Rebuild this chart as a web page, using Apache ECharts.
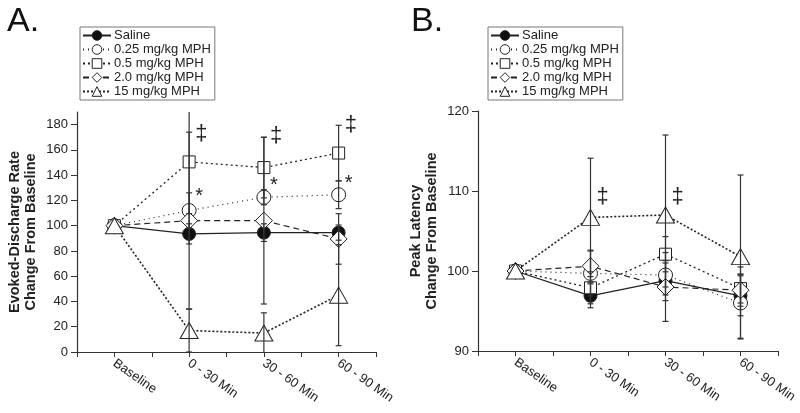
<!DOCTYPE html>
<html>
<head>
<meta charset="utf-8">
<script src="https://cdn.jsdelivr.net/npm/echarts@6/dist/echarts.min.js"></script>
<style>
  html, body { margin: 0; padding: 0; background: #fff; }
  #main { width: 800px; height: 413px; }
</style>
</head>
<body>
<div id="main"></div>
<script>
// categories and groups
var categories = ['Baseline', '0 - 30 Min', '30 - 60 Min', '60 - 90 Min'];
var groups = ['Saline', '0.25 mg/kg MPH', '0.5 mg/kg MPH', '2.0 mg/kg MPH', '15 mg/kg MPH'];

// A. evoked-discharge rate (% of baseline)
var salineA = [100, 93.5, 94.5, 94.5];
var mph025A = [100, 112, 122.5, 124.5];
var mph05A = [100, 150.5, 146, 157.5];
var mph2A = [100, 104, 104, 89.5];
var mph15A = [100, 17, 15, 45];
var salineAErr = [0, 8, 7, 6];
var mph025AErr = [0, 14, 6, 11];
var mph05AErr = [0, 41, 24, 22];
var mph2AErr = [0, 70, 66, 20];
var mph15AErr = [0, 17, 16, 40];

// B. peak latency (% of baseline)
var salineB = [100, 96.9, 98.8, 96.9];
var mph025B = [100, 99.7, 99.5, 96];
var mph05B = [100, 97.9, 102.1, 97.8];
var mph2B = [100, 100.6, 98, 97.6];
var mph15B = [100, 106.7, 107, 101.8];
var salineBErr = [0, 1.5, 2.5, 2.5];
var mph025BErr = [0, 2.8, 1.5, 4.5];
var mph05BErr = [0, 2, 2.2, 1.8];
var mph2BErr = [0, 2, 4.3, 2];
var mph15BErr = [0, 7.4, 10, 10.2];

// significance marks [category index, value]
var daggerA = [[1, 172.8], [2, 171.4], [3, 179.4]];
var starA = [[1, 123], [2, 131.5], [3, 133.5]];
var daggerB = [[1, 109.3], [2, 109.3]];

// y tick labels
var yTicksA = [0, 20, 40, 60, 80, 100, 120, 140, 160, 180];
var yTicksB = [90, 100, 110, 120];
var yMaxA = 190;

var FONT = 'Liberation Sans, Arial, sans-serif';
var INK = '#222';

// look of each group
var looks = [
	{ symbol: 'circle', size: 13, fill: '#111', line: 'solid', width: 1.3 },
	{ symbol: 'circle', size: 14, fill: '#fff', line: [1, 4], width: 1.2 },
	{ symbol: 'rect', size: 12, fill: '#fff', line: [2, 3], width: 1.3 },
	{ symbol: 'diamond', size: 17, fill: '#fff', line: [6, 4], width: 1.2 },
	{ symbol: 'triangle', size: [18, 16], fill: '#fff', line: [2, 2], width: 1.6 }
];

function lineSeries(idx, means, name, look) {
	return {
		name: name,
		type: 'line',
		xAxisIndex: idx,
		yAxisIndex: idx,
		data: means.map(function(v, i) { return [i, v]; }),
		symbol: look.symbol,
		symbolSize: look.size,
		showSymbol: true,
		z: 3,
		lineStyle: { color: INK, width: look.width, type: look.line },
		itemStyle: { color: look.fill, borderColor: INK, borderWidth: 1 },
		emphasis: { disabled: true },
		animation: false
	};
}

function errorSeries(idx, meansList, errList) {
	var rows = [];
	meansList.forEach(function(means, g) {
		means.forEach(function(v, i) {
			var e = errList[g][i];
			if (e > 0) rows.push([i, v - e, v + e]);
		});
	});
	return {
		type: 'custom',
		xAxisIndex: idx,
		yAxisIndex: idx,
		data: rows,
		clip: true,
		z: 4,
		silent: true,
		animation: false,
		renderItem: function(params, api) {
			var top = api.coord([api.value(0), api.value(2)]);
			var bot = api.coord([api.value(0), api.value(1)]);
			var w = 3;
			var st = { stroke: '#333', lineWidth: 1.2 };
			return {
				type: 'group',
				children: [
					{ type: 'line', shape: { x1: top[0], y1: top[1], x2: bot[0], y2: bot[1] }, style: st },
					{ type: 'line', shape: { x1: top[0] - w, y1: top[1], x2: top[0] + w, y2: top[1] }, style: st },
					{ type: 'line', shape: { x1: bot[0] - w, y1: bot[1], x2: bot[0] + w, y2: bot[1] }, style: st }
				]
			};
		}
	};
}

function markSeries(idx, points, glyph, size) {
	return {
		type: 'custom',
		xAxisIndex: idx,
		yAxisIndex: idx,
		data: points,
		z: 5,
		silent: true,
		animation: false,
		renderItem: function(params, api) {
			var p = api.coord([api.value(0), api.value(1)]);
			return {
				type: 'text',
				style: {
					text: glyph,
					x: p[0] + 6,
					y: p[1],
					fill: INK,
					font: size + 'px ' + FONT,
					textAlign: 'left',
					textVerticalAlign: 'middle'
				}
			};
		}
	};
}

function xAxis(idx) {
	return {
		type: 'value',
		gridIndex: idx,
		min: -0.5,
		max: 3.5,
		interval: 0.5,
		splitLine: { show: false },
		axisLine: { onZero: false, lineStyle: { color: '#333', width: 1.2 } },
		axisTick: { length: 5, lineStyle: { color: '#333' } },
		axisLabel: {
			rotate: -35,
			margin: 10,
			color: INK,
			fontFamily: FONT,
			fontSize: 13,
			showMinLabel: true,
			showMaxLabel: true,
			formatter: function(v) {
				return Number.isInteger(v) ? categories[v] : '';
			}
		}
	};
}

function yAxis(idx, ticks, max, title) {
	return {
		type: 'value',
		gridIndex: idx,
		min: ticks[0],
		max: max,
		interval: ticks[1] - ticks[0],
		name: title,
		nameLocation: 'middle',
		nameGap: 38,
		nameTextStyle: { color: INK, fontFamily: FONT, fontSize: 14.5, fontWeight: 'bold', lineHeight: 16 },
		splitLine: { show: false },
		axisLine: { show: true, onZero: false, lineStyle: { color: '#333', width: 1.2 } },
		axisTick: { length: 6, customValues: ticks, lineStyle: { color: '#333' } },
		axisLabel: {
			margin: 9,
			color: INK,
			fontFamily: FONT,
			fontSize: 13,
			customValues: ticks
		}
	};
}

function legend(left) {
	return {
		data: groups,
		orient: 'vertical',
		left: left,
		top: 27,
		itemWidth: 28,
		itemHeight: 12,
		itemGap: 1,
		padding: [2, 4, 2, 2],
		borderColor: '#777',
		borderWidth: 1,
		selectedMode: false,
		itemStyle: { borderWidth: 1 },
		textStyle: { color: INK, fontFamily: FONT, fontSize: 13, lineHeight: 13, padding: [0, 0, 0, -2] }
	};
}

var meansA = [salineA, mph025A, mph05A, mph2A, mph15A];
var errA = [salineAErr, mph025AErr, mph05AErr, mph2AErr, mph15AErr];
var meansB = [salineB, mph025B, mph05B, mph2B, mph15B];
var errB = [salineBErr, mph025BErr, mph05BErr, mph2BErr, mph15BErr];

var series = [];
groups.forEach(function(name, g) {
	series.push(lineSeries(0, meansA[g], name, looks[g]));
});
groups.forEach(function(name, g) {
	series.push(lineSeries(1, meansB[g], name, looks[g]));
});
series.push(errorSeries(0, meansA, errA));
series.push(errorSeries(1, meansB, errB));
series.push(markSeries(0, daggerA, '\u2021', 22));
series.push(markSeries(0, starA, '*', 20));
series.push(markSeries(1, daggerB, '\u2021', 22));

var option = {
	backgroundColor: '#fff',
	animation: false,
	title: [
		{ text: 'A.', left: 2, top: 0, textStyle: { fontFamily: FONT, fontSize: 34, fontWeight: 'normal', color: '#111' } },
		{ text: 'B.', left: 406, top: 0, textStyle: { fontFamily: FONT, fontSize: 34, fontWeight: 'normal', color: '#111' } }
	],
	legend: [legend(80), legend(488)],
	grid: [
		{ left: 77, right: 424, top: 112, bottom: 61 },
		{ left: 478, right: 22, top: 111, bottom: 62 }
	],
	xAxis: [xAxis(0), xAxis(1)],
	yAxis: [
		yAxis(0, yTicksA, yMaxA, 'Evoked-Discharge Rate\nChange From Baseline'),
		yAxis(1, yTicksB, yTicksB[yTicksB.length - 1], 'Peak Latency\nChange From Baseline')
	],
	series: series
};

var chart = echarts.init(document.getElementById('main'));
chart.setOption(option);
</script>
</body>
</html>
